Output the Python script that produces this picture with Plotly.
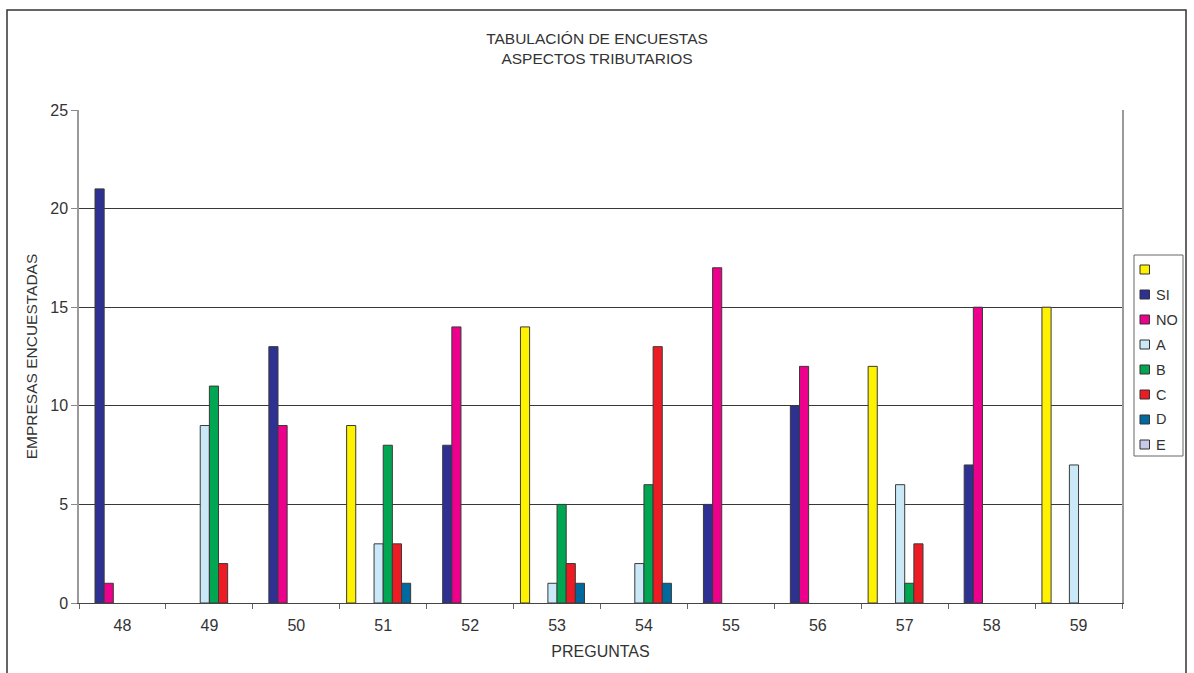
import plotly.graph_objects as go

# Question numbers on the x axis
preguntas = ["48", "49", "50", "51", "52", "53", "54", "55", "56", "57", "58", "59"]

# Number of surveyed companies per answer option (None = no answer recorded)
sin_nombre = [None, None, None, 9, None, 14, None, None, None, 12, None, 15]
si = [21, None, 13, None, 8, None, None, 5, 10, None, 7, None]
no = [1, None, 9, None, 14, None, None, 17, 12, None, 15, None]
op_a = [None, 9, None, 3, None, 1, 2, None, None, 6, None, 7]
op_b = [None, 11, None, 8, None, 5, 6, None, None, 1, None, None]
op_c = [None, 2, None, 3, None, 2, 13, None, None, 3, None, None]
op_d = [None, None, None, 1, None, 1, 1, None, None, None, None, None]
op_e = [None] * 12

series_names = ["", "SI", "NO", "A", "B", "C", "D", "E"]
series_values = [sin_nombre, si, no, op_a, op_b, op_c, op_d, op_e]
series_colors = ["#FFF200", "#2E3192", "#EC008C", "#C9E9F8",
                 "#00A651", "#ED1C24", "#006A9E", "#C8C8E8"]

FONT = "Liberation Sans, Arial, sans-serif"
TXT = "#333333"

W, H = 1194, 673
ML, MR, MT, MB = 79, 8, 110, 70
PW, PH = W - ML - MR, H - MT - MB


def px_x(px):
    return (px - ML) / PW


def px_y(py):
    return (H - MB - py) / PH


fig = go.Figure()
for name, vals, col in zip(series_names, series_values, series_colors):
    fig.add_trace(go.Bar(
        x=preguntas, y=vals, name=name, showlegend=False,
        marker=dict(color=col, line=dict(color="#3a3a3a", width=1)),
    ))

fig.update_layout(
    width=W, height=H,
    barmode="group", bargap=0.158, bargroupgap=0,
    paper_bgcolor="white", plot_bgcolor="white",
    margin=dict(l=ML, r=MR, t=MT, b=MB),
    font=dict(family=FONT, size=16, color=TXT),
    title=dict(
        text="TABULACIÓN DE ENCUESTAS<br>ASPECTOS TRIBUTARIOS",
        x=597 / W, xref="container", xanchor="center",
        y=1 - 44 / H, yanchor="top",
        font=dict(family=FONT, size=15.5, color=TXT),
    ),
    showlegend=False,
    xaxis=dict(
        domain=[0, px_x(1122)],
        type="category", tickson="boundaries",
        ticks="outside", ticklen=5, tickcolor="#666666",
        showline=True, linecolor="#444444", linewidth=1, mirror=False,
        showgrid=False, ticklabelstandoff=8,
        tickfont=dict(family=FONT, size=16, color=TXT),
        title=dict(text="PREGUNTAS", standoff=12,
                   font=dict(family=FONT, size=16, color=TXT)),
    ),
    yaxis=dict(
        range=[0, 25], dtick=5,
        ticks="outside", ticklen=6, tickcolor="#888888",
        showline=True, linecolor="#9a9a9a", linewidth=1.5, mirror=True,
        showgrid=True, gridcolor="#383838", gridwidth=1,
        zeroline=False,
        tickfont=dict(family=FONT, size=16, color=TXT),
        title=dict(text="EMPRESAS ENCUESTADAS", standoff=9,
                   font=dict(family=FONT, size=15.5, color=TXT)),
    ),
)

shapes = []
annotations = []

# Outer chart border
shapes.append(dict(
    type="rect", xref="paper", yref="paper",
    x0=px_x(7), x1=px_x(1186), y0=px_y(H + 20), y1=px_y(10),
    line=dict(color="#333333", width=1.5), fillcolor="rgba(0,0,0,0)",
    layer="below",
))

# Legend box with one swatch per series
shapes.append(dict(
    type="rect", xref="paper", yref="paper",
    x0=px_x(1134), x1=px_x(1183), y0=px_y(456), y1=px_y(255),
    line=dict(color="#666666", width=1), fillcolor="white",
))
for i, (name, col) in enumerate(zip(series_names, series_colors)):
    cy = 269.5 + i * 25
    shapes.append(dict(
        type="rect", xref="paper", yref="paper",
        x0=px_x(1140), x1=px_x(1149.5), y0=px_y(cy + 4.5), y1=px_y(cy - 4.5),
        line=dict(color="#333333", width=1), fillcolor=col,
    ))
    if name:
        annotations.append(dict(
            xref="paper", yref="paper", x=px_x(1154), y=px_y(cy),
            xanchor="left", yanchor="middle", text=name, showarrow=False,
            font=dict(family=FONT, size=14.5, color=TXT),
        ))

fig.update_layout(shapes=shapes, annotations=annotations)

fig.write_html("out.html")
